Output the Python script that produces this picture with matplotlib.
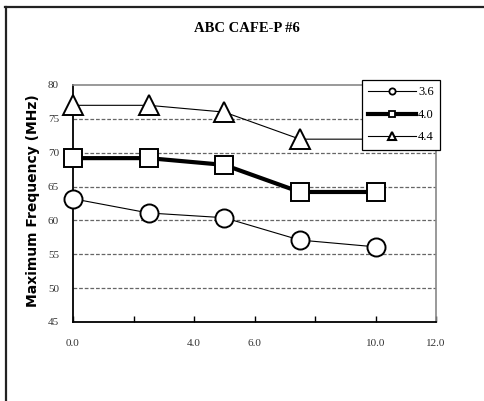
import matplotlib
matplotlib.use("Agg")
import matplotlib.pyplot as plt
from matplotlib.lines import Line2D

# Supply voltage series: maximum frequency vs. x position
x_vals = [0.0, 2.5, 5.0, 7.5, 10.0]
freq_36 = [63.2, 61.1, 60.4, 57.1, 56.1]
freq_40 = [69.2, 69.2, 68.2, 64.2, 64.2]
freq_44 = [77.0, 77.0, 76.0, 72.0, 72.0]
series_labels = ["3.6", "4.0", "4.4"]

x_ticks = [0, 2, 4, 6, 8, 10, 12]
x_ticklabels = ["0.0", "", "4.0", "6.0", "", "10.0", "12.0"]
y_ticks = [45, 50, 55, 60, 65, 70, 75, 80]

serif = "Liberation Serif"

fig = plt.figure(figsize=(4.84, 4.01), dpi=100)
fig.patch.set_facecolor("white")

# outer frame: top and left edges only
fig.add_artist(Line2D([5 / 484, 1.0], [1 - 6.5 / 401, 1 - 6.5 / 401],
                      transform=fig.transFigure, color="#222222", lw=1.6))
fig.add_artist(Line2D([5.5 / 484, 5.5 / 484], [0.0, 1 - 6.5 / 401],
                      transform=fig.transFigure, color="#222222", lw=1.6))

ax = fig.add_axes([73 / 484, 1 - 322 / 401, 363 / 484, 237 / 401])
ax.set_xlim(0, 12)
ax.set_ylim(45, 80)

for gy in [50, 55, 60, 65, 70, 75]:
    ax.axhline(gy, color="#666666", lw=0.9, ls=(0, (3, 1.5)), zorder=1)

ax.spines["top"].set_color("#888888")
ax.spines["right"].set_color("#888888")
ax.spines["top"].set_linewidth(1.2)
ax.spines["right"].set_linewidth(1.2)
ax.spines["left"].set_linewidth(1.3)
ax.spines["bottom"].set_linewidth(1.3)

common = dict(color="black", markerfacecolor="white", markeredgecolor="black",
              markeredgewidth=1.4, clip_on=False, zorder=3)
ax.plot(x_vals, freq_36, marker="o", markersize=13, lw=0.8, **common)
ax.plot(x_vals, freq_40, marker="s", markersize=13, lw=3.0, **common)
ax.plot(x_vals, freq_44, marker="^", markersize=15, lw=0.8, **common)

ax.set_xticks(x_ticks)
ax.set_xticklabels(x_ticklabels, fontfamily=serif, fontsize=8, color="#333333")
ax.set_yticks(y_ticks)
ax.set_yticklabels([str(v) for v in y_ticks], fontfamily=serif, fontsize=8,
                   color="#333333")
ax.tick_params(axis="x", direction="in", length=4, width=1, pad=12)
ax.tick_params(axis="y", length=0, pad=10)

fig.text(247 / 484, 1 - 29 / 401, "ABC CAFE-P #6", ha="center", va="center",
         fontfamily=serif, fontweight="bold", fontsize=10.5)
fig.text(33 / 484, 1 - 201 / 401, "Maximum Frequency (MHz)", rotation=90,
         ha="center", va="center", fontfamily="DejaVu Sans",
         fontweight="bold", fontsize=10)

handles = [
    Line2D([], [], color="black", lw=0.8, marker="o", markersize=4.5,
           markerfacecolor="white", markeredgewidth=1.3),
    Line2D([], [], color="black", lw=3.0, marker="s", markersize=5,
           markerfacecolor="white", markeredgewidth=1.3),
    Line2D([], [], color="black", lw=0.8, marker="^", markersize=6,
           markerfacecolor="white", markeredgewidth=1.5),
]
leg = fig.legend(handles, series_labels, loc="upper left",
                 bbox_to_anchor=(362 / 484, 1 - 80 / 401),
                 prop={"family": serif, "size": 9}, handlelength=3.8,
                 fancybox=False, framealpha=1, edgecolor="black",
                 borderpad=0.5, labelspacing=0.85, handletextpad=0.2,
                 borderaxespad=0)
leg.get_frame().set_linewidth(0.9)
leg.set_zorder(5)

fig.savefig("out.png", dpi=100)
